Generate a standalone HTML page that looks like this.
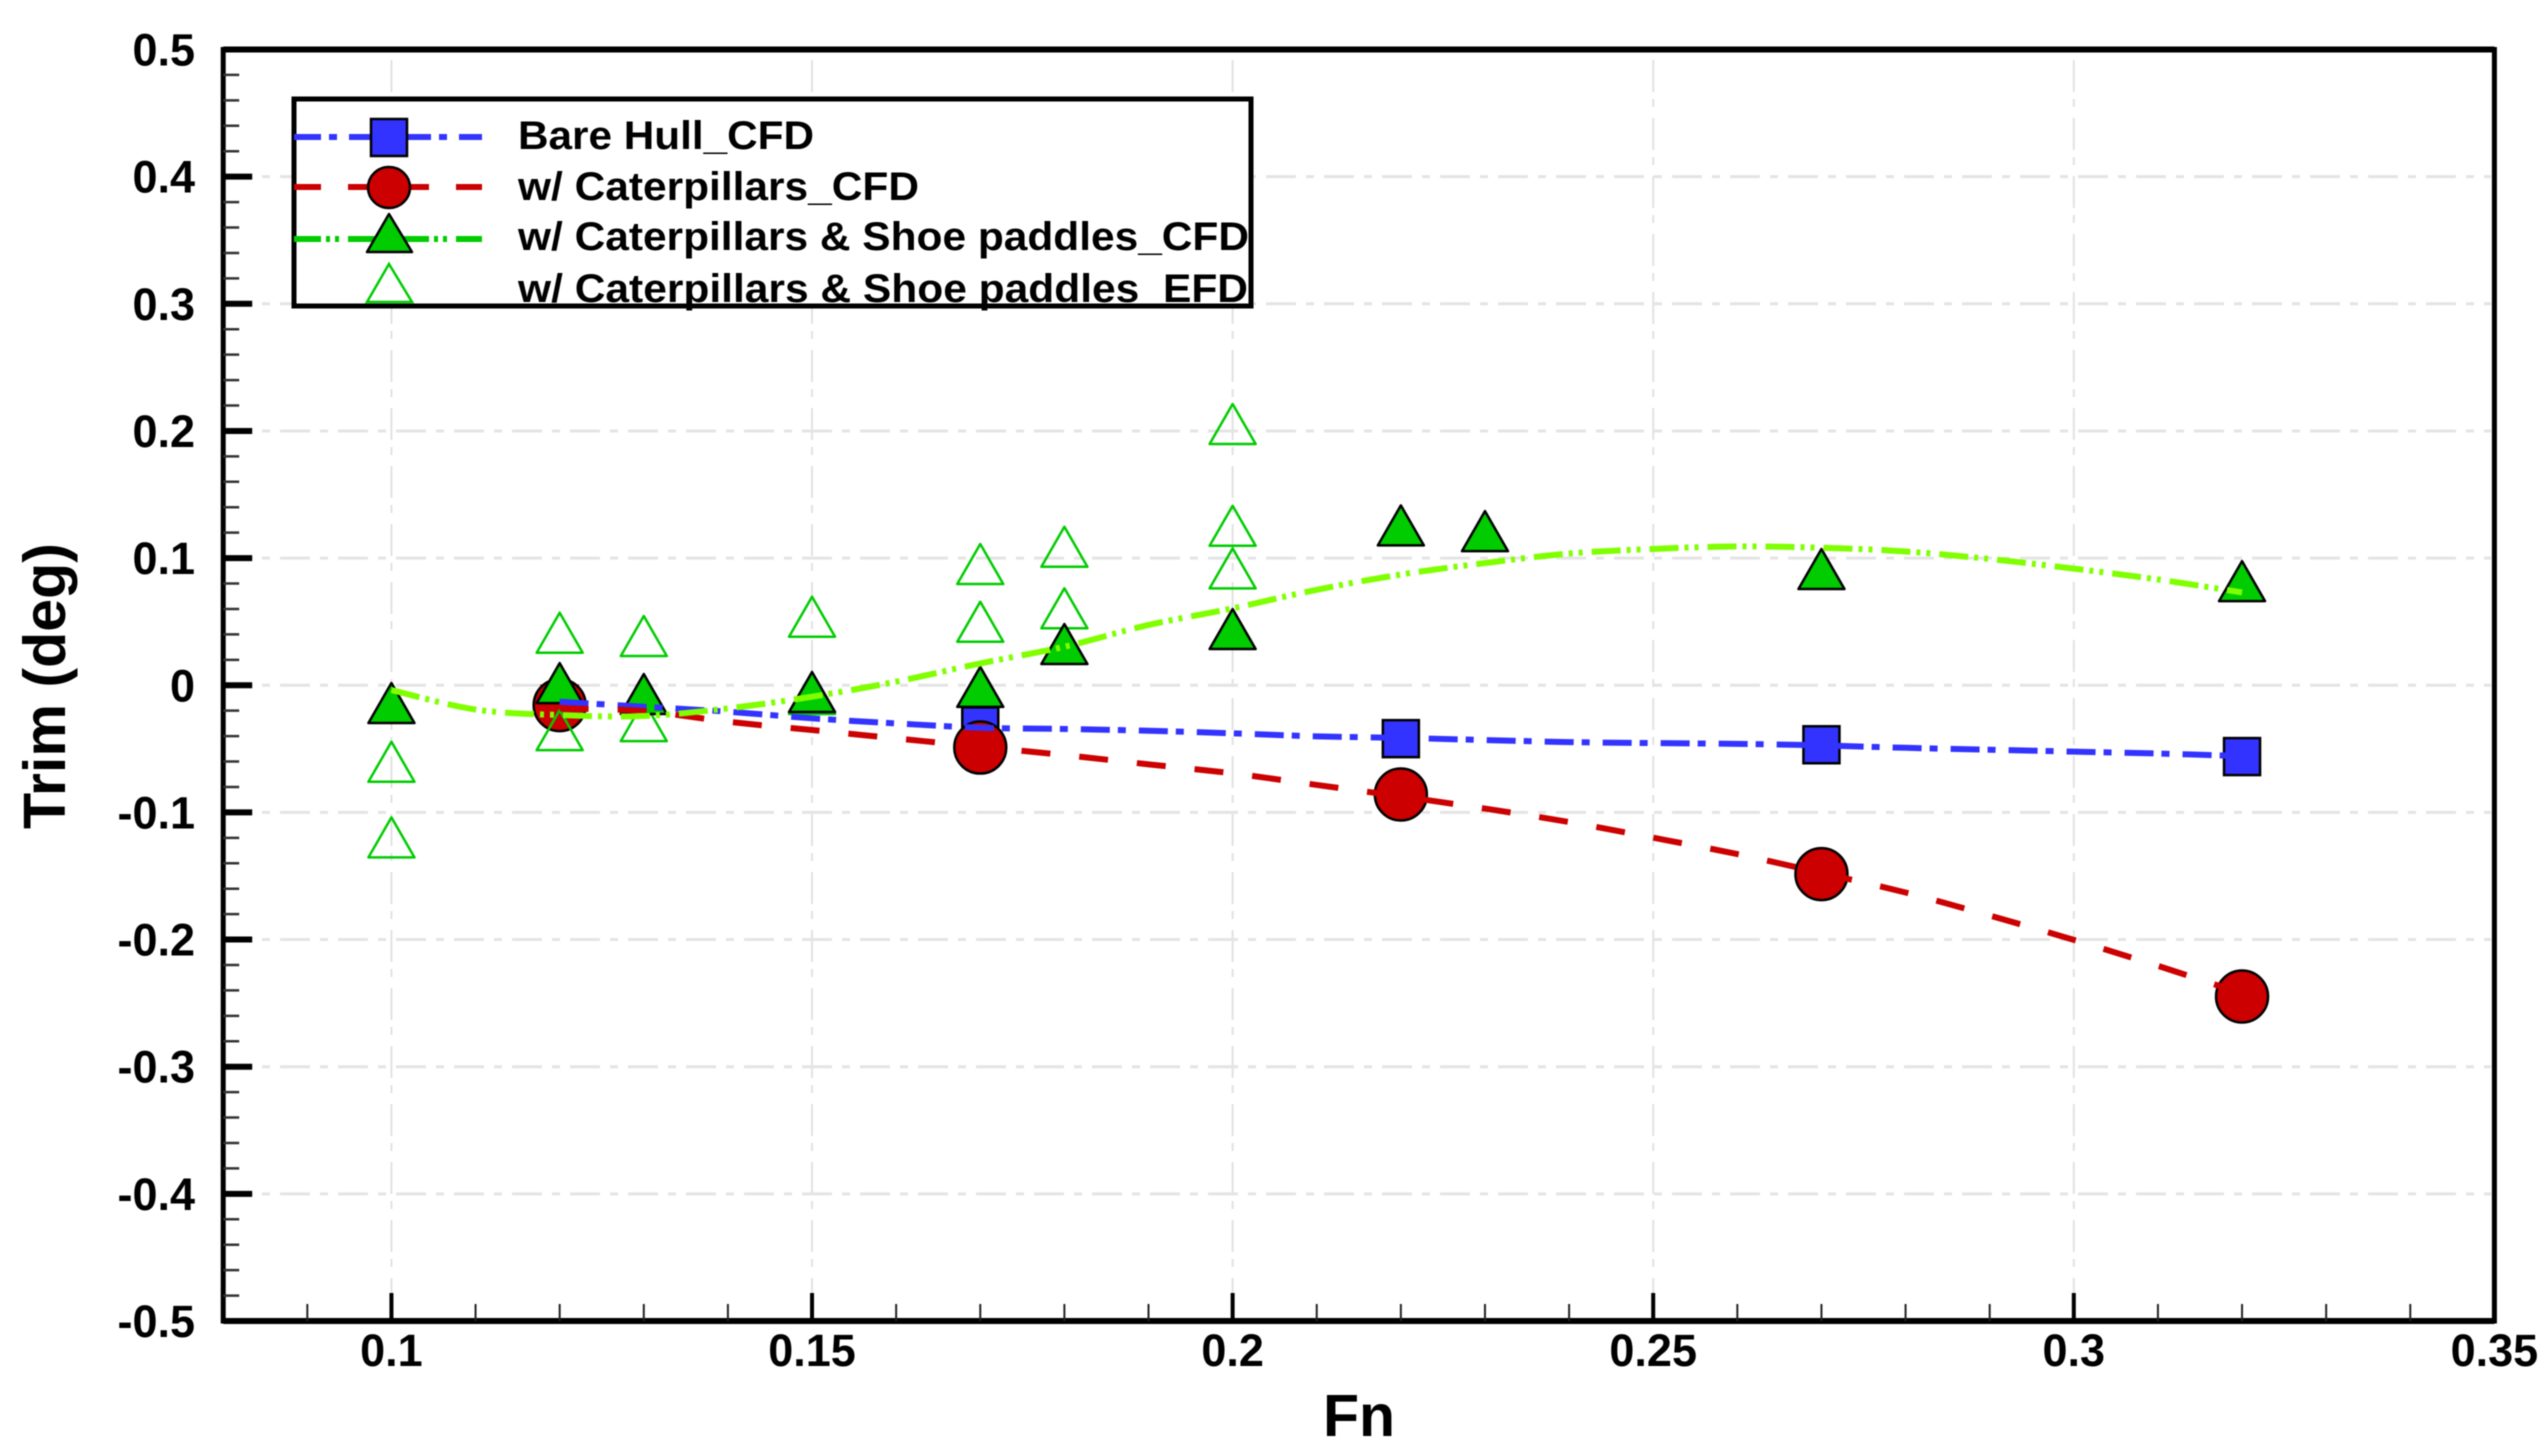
<!DOCTYPE html>
<html lang="en">
<head>
<meta charset="utf-8">
<title>Trim vs Fn</title>
<style>
html,body{margin:0;padding:0;background:#fff;}
svg{display:block;filter:blur(0.6px);}
text{font-family:"Liberation Sans",Arial,sans-serif;font-weight:bold;fill:#000;}
</style>
</head>
<body>
<svg id="chart" xmlns="http://www.w3.org/2000/svg" width="2548" height="1456" viewBox="0 0 2548 1456">
  <rect width="2548" height="1456" fill="#fff"/>
  <g id="grid"></g>
  <g id="marks"></g>
  <g id="axes"></g>
  <text x="1359" y="1436" font-size="59" text-anchor="middle">Fn</text>
  <text transform="translate(65,829) rotate(-90)" font-size="59" textLength="286" lengthAdjust="spacingAndGlyphs">Trim (deg)</text>
  <g>
    <rect x="294" y="99" width="957" height="207" fill="#fff" stroke="#000" stroke-width="5"/>
    <g>
      <line x1="294" y1="137" x2="482" y2="137" stroke="#3333ff" stroke-width="6" stroke-dasharray="27 8 8 12"/>
      <rect x="371" y="119" width="36" height="37" fill="#3333ff" stroke="#000" stroke-width="2.5"/>
      <text x="518" y="149" font-size="40" textLength="296" lengthAdjust="spacingAndGlyphs">Bare Hull_CFD</text>
    </g>
    <g>
      <line x1="294" y1="187" x2="482" y2="187" stroke="#cc0000" stroke-width="6" stroke-dasharray="27 27"/>
      <ellipse cx="389" cy="187.5" rx="21" ry="20.5" fill="#cc0000" stroke="#000" stroke-width="2.5"/>
      <text x="518" y="200" font-size="40" textLength="401" lengthAdjust="spacingAndGlyphs">w/ Caterpillars_CFD</text>
    </g>
    <g>
      <line x1="294" y1="239" x2="482" y2="239" stroke="#00cc00" stroke-width="6" stroke-dasharray="27 5 4 5 4 9"/>
      <polygon points="389,214 412,252 367,252" fill="#00cc00" stroke="#000" stroke-width="2.5" stroke-linejoin="round"/>
      <text x="518" y="250" font-size="40" textLength="731" lengthAdjust="spacingAndGlyphs">w/ Caterpillars &amp; Shoe paddles_CFD</text>
    </g>
    <g>
      <polygon points="389,264 412,302 367,302" fill="#fff" stroke="#00cc00" stroke-width="2.5"/>
      <text x="518" y="302" font-size="40" textLength="730" lengthAdjust="spacingAndGlyphs">w/ Caterpillars &amp; Shoe paddles_EFD</text>
    </g>
  </g>
</svg>
<script>
// Axis ranges
const xDomain = [0.08, 0.35];
const yDomain = [-0.5, 0.5];

// Tick labels
const xTickLabels = ["0.1", "0.15", "0.2", "0.25", "0.3", "0.35"];
const yTickLabels = ["0.5", "0.4", "0.3", "0.2", "0.1", "0", "-0.1", "-0.2", "-0.3", "-0.4", "-0.5"];
const xMinorTicks = [0.09, 0.11, 0.12, 0.13, 0.14, 0.16, 0.17, 0.18, 0.19, 0.21, 0.22, 0.23, 0.24, 0.26, 0.27, 0.28, 0.29, 0.31, 0.32, 0.33, 0.34];
const yMinorTicks = [0.48, 0.46, 0.44, 0.42, 0.38, 0.36, 0.34, 0.32, 0.28, 0.26, 0.24, 0.22, 0.18, 0.16, 0.14, 0.12, 0.08, 0.06, 0.04, 0.02, -0.02, -0.04, -0.06, -0.08, -0.12, -0.14, -0.16, -0.18, -0.22, -0.24, -0.26, -0.28, -0.32, -0.34, -0.36, -0.38, -0.42, -0.44, -0.46, -0.48];

// Fitted curves
const blueLineFn = [0.12, 0.13, 0.14, 0.15, 0.16, 0.17, 0.18, 0.19, 0.20, 0.21, 0.22, 0.23, 0.24, 0.25, 0.26, 0.27, 0.28, 0.29, 0.30, 0.31, 0.32];
const blueLineTrim = [-0.013, -0.0169, -0.0208, -0.026, -0.030, -0.0334, -0.0344, -0.0358, -0.0378, -0.0402, -0.0414, -0.0431, -0.0447, -0.0455, -0.0461, -0.0473, -0.0492, -0.0507, -0.0522, -0.0537, -0.0557];
const redLineFn = [0.12, 0.13, 0.14, 0.15, 0.16, 0.17, 0.18, 0.19, 0.20, 0.21, 0.22, 0.23, 0.24, 0.25, 0.26, 0.27, 0.28, 0.29, 0.30, 0.31, 0.32];
const redLineTrim = [-0.0182, -0.0203, -0.0287, -0.0352, -0.0418, -0.0484, -0.0549, -0.0622, -0.0693, -0.0784, -0.0874, -0.0970, -0.1076, -0.1199, -0.1328, -0.1476, -0.1630, -0.1811, -0.2003, -0.2207, -0.2424];
const greenLineFn = [0.10, 0.11, 0.12, 0.13, 0.14, 0.15, 0.16, 0.17, 0.18, 0.19, 0.20, 0.21, 0.22, 0.23, 0.24, 0.25, 0.26, 0.27, 0.28, 0.29, 0.30, 0.31, 0.32];
const greenLineTrim = [-0.0038, -0.0191, -0.0234, -0.0242, -0.0182, -0.0090, 0.0028, 0.0172, 0.0303, 0.0474, 0.0605, 0.0751, 0.0871, 0.0961, 0.1036, 0.1072, 0.1092, 0.1082, 0.1052, 0.0993, 0.0917, 0.0832, 0.0730];

// Marker series
const bareHullFn = [0.12, 0.17, 0.22, 0.27, 0.32];
const bareHullTrim = [-0.015, -0.032, -0.042, -0.0468, -0.0561];
const caterpillarFn = [0.12, 0.17, 0.22, 0.27, 0.32];
const caterpillarTrim = [-0.0156, -0.049, -0.0859, -0.1485, -0.2448];
const paddleCfdFn = [0.10, 0.12, 0.13, 0.15, 0.17, 0.18, 0.20, 0.22, 0.23, 0.27, 0.32];
const paddleCfdTrim = [-0.0187, -0.003, -0.0116, -0.010, -0.006, 0.0277, 0.0395, 0.121, 0.1165, 0.0867, 0.0772];
const paddleEfdFn = [0.10, 0.10, 0.12, 0.12, 0.13, 0.13, 0.15, 0.15, 0.17, 0.17, 0.18, 0.18, 0.20, 0.20, 0.20];
const paddleEfdTrim = [-0.0649, -0.1244, 0.0366, -0.04, 0.034, -0.0329, 0.0492, -0.0116, 0.0906, 0.0452, 0.1042, 0.0558, 0.2007, 0.1207, 0.0872];

const NS = "http://www.w3.org/2000/svg";
const left = 223.2, right = 2494.4, top_ = 49.5, bottom = 1321;
function xScale(v) { return left + (v - xDomain[0]) / (xDomain[1] - xDomain[0]) * (right - left); }
function yScale(v) { return bottom - (v - yDomain[0]) / (yDomain[1] - yDomain[0]) * (bottom - top_); }
function make(parent, tag, attrs) {
  const el = document.createElementNS(NS, tag);
  for (const k in attrs) el.setAttribute(k, attrs[k]);
  parent.appendChild(el);
  return el;
}
const gridG = document.getElementById("grid");
const marksG = document.getElementById("marks");
const axesG = document.getElementById("axes");

// Gridlines
xTickLabels.slice(0, 5).forEach(function (t) {
  const px = xScale(parseFloat(t));
  const el = make(gridG, "line", { x1: px, x2: px, y1: 60, y2: 1295, stroke: "#e2e2e2", "stroke-width": 2, "stroke-dasharray": "32 7 8 11" });
  
  
});
yTickLabels.slice(1, 10).forEach(function (t) {
  const py = yScale(parseFloat(t));
  const el = make(gridG, "line", { x1: 262, x2: 2491, y1: py, y2: py, stroke: "#e4e4e4", "stroke-width": 3, "stroke-dasharray": "8 10 30 10" });
  
  
});

// Markers
function drawTriangle(fn, trim, fill, stroke, name) {
  const cx = xScale(fn), cy = yScale(trim);
  const pts = cx + "," + (cy - 26) + " " + (cx + 23) + "," + (cy + 14) + " " + (cx - 23) + "," + (cy + 14);
  const el = make(marksG, "polygon", { points: pts, fill: fill, stroke: stroke, "stroke-width": 2.5, "stroke-linejoin": "round" });
  
  
}
bareHullFn.forEach(function (fn, i) {
  const el = make(marksG, "rect", { x: xScale(fn) - 18, y: yScale(bareHullTrim[i]) - 18.5, width: 36, height: 37, fill: "#3333ff", stroke: "#000", "stroke-width": 2.5 });
  
  
});
caterpillarFn.forEach(function (fn, i) {
  const el = make(marksG, "circle", { cx: xScale(fn), cy: yScale(caterpillarTrim[i]), r: 26, fill: "#cc0000", stroke: "#000", "stroke-width": 2.5 });
  
  
});
paddleEfdFn.forEach(function (fn, i) {
  drawTriangle(fn, paddleEfdTrim[i], "none", "#00cc00", 'shoe-paddle-efd-point');
});
paddleCfdFn.forEach(function (fn, i) {
  drawTriangle(fn, paddleCfdTrim[i], "#00cc00", "#000", 'shoe-paddle-cfd-point');
});

// Smooth curve through the sampled values
function curvePath(fns, trims) {
  const p = fns.map(function (fn, i) { return [xScale(fn), yScale(trims[i])]; });
  let d = "M" + p[0][0] + " " + p[0][1];
  for (let i = 0; i < p.length - 1; i++) {
    const a = p[Math.max(i - 1, 0)], b = p[i], c = p[i + 1], e = p[Math.min(i + 2, p.length - 1)];
    d += " C" + (b[0] + (c[0] - a[0]) / 6) + " " + (b[1] + (c[1] - a[1]) / 6) + " " + (c[0] - (e[0] - b[0]) / 6) + " " + (c[1] - (e[1] - b[1]) / 6) + " " + c[0] + " " + c[1];
  }
  return d;
}
const blueLine = make(marksG, "path", { d: curvePath(blueLineFn, blueLineTrim), fill: "none", stroke: "#3333ff", "stroke-width": 6, "stroke-dasharray": "29 8 8 13" });


const redLine = make(marksG, "path", { d: curvePath(redLineFn, redLineTrim), fill: "none", stroke: "#cc0000", "stroke-width": 6, "stroke-dasharray": "29 29" });


const greenLine = make(marksG, "path", { d: curvePath(greenLineFn, greenLineTrim), fill: "none", stroke: "#7fff00", "stroke-width": 6, "stroke-dasharray": "29 6 4 6 4 9" });



// Axis frame
const frame = make(axesG, "path", { d: "M" + left + " " + top_ + " H" + right + " V" + bottom + " H" + left + " Z", fill: "none", stroke: "#000", "stroke-width": 5 });


const topEdge = make(axesG, "line", { x1: left, x2: right, y1: top_, y2: top_, stroke: "#000", "stroke-width": 6 });


const bottomEdge = make(axesG, "line", { x1: left, x2: right, y1: bottom, y2: bottom, stroke: "#000", "stroke-width": 6 });



// Ticks and labels
xMinorTicks.forEach(function (v) {
  const px = xScale(v);
  const el = make(axesG, "line", { x1: px, x2: px, y1: bottom, y2: bottom - 17, stroke: "#222", "stroke-width": 2 });
  
  
});
yMinorTicks.forEach(function (v) {
  const py = yScale(v);
  const el = make(axesG, "line", { x1: left, x2: left + 16, y1: py, y2: py, stroke: "#333", "stroke-width": 2.5 });
  
  
});
xTickLabels.forEach(function (t) {
  const px = xScale(parseFloat(t));
  if (t !== "0.35") {
    const tick = make(axesG, "line", { x1: px, x2: px, y1: bottom, y2: bottom - 28, stroke: "#000", "stroke-width": 4 });
    
    
  }
  const label = make(axesG, "text", { x: px, y: 1366, "font-size": 45, "text-anchor": "middle" });
  label.textContent = t;
  
  
});
yTickLabels.forEach(function (t) {
  const py = yScale(parseFloat(t));
  if (t !== "0.5" && t !== "-0.5") {
    const tick = make(axesG, "line", { x1: left, x2: left + 29, y1: py, y2: py, stroke: "#000", "stroke-width": 6 });
    
    
  }
  const label = make(axesG, "text", { x: 195, y: py + 16, "font-size": 45, "text-anchor": "end" });
  label.textContent = t;
  
  
});
</script>
</body>
</html>
